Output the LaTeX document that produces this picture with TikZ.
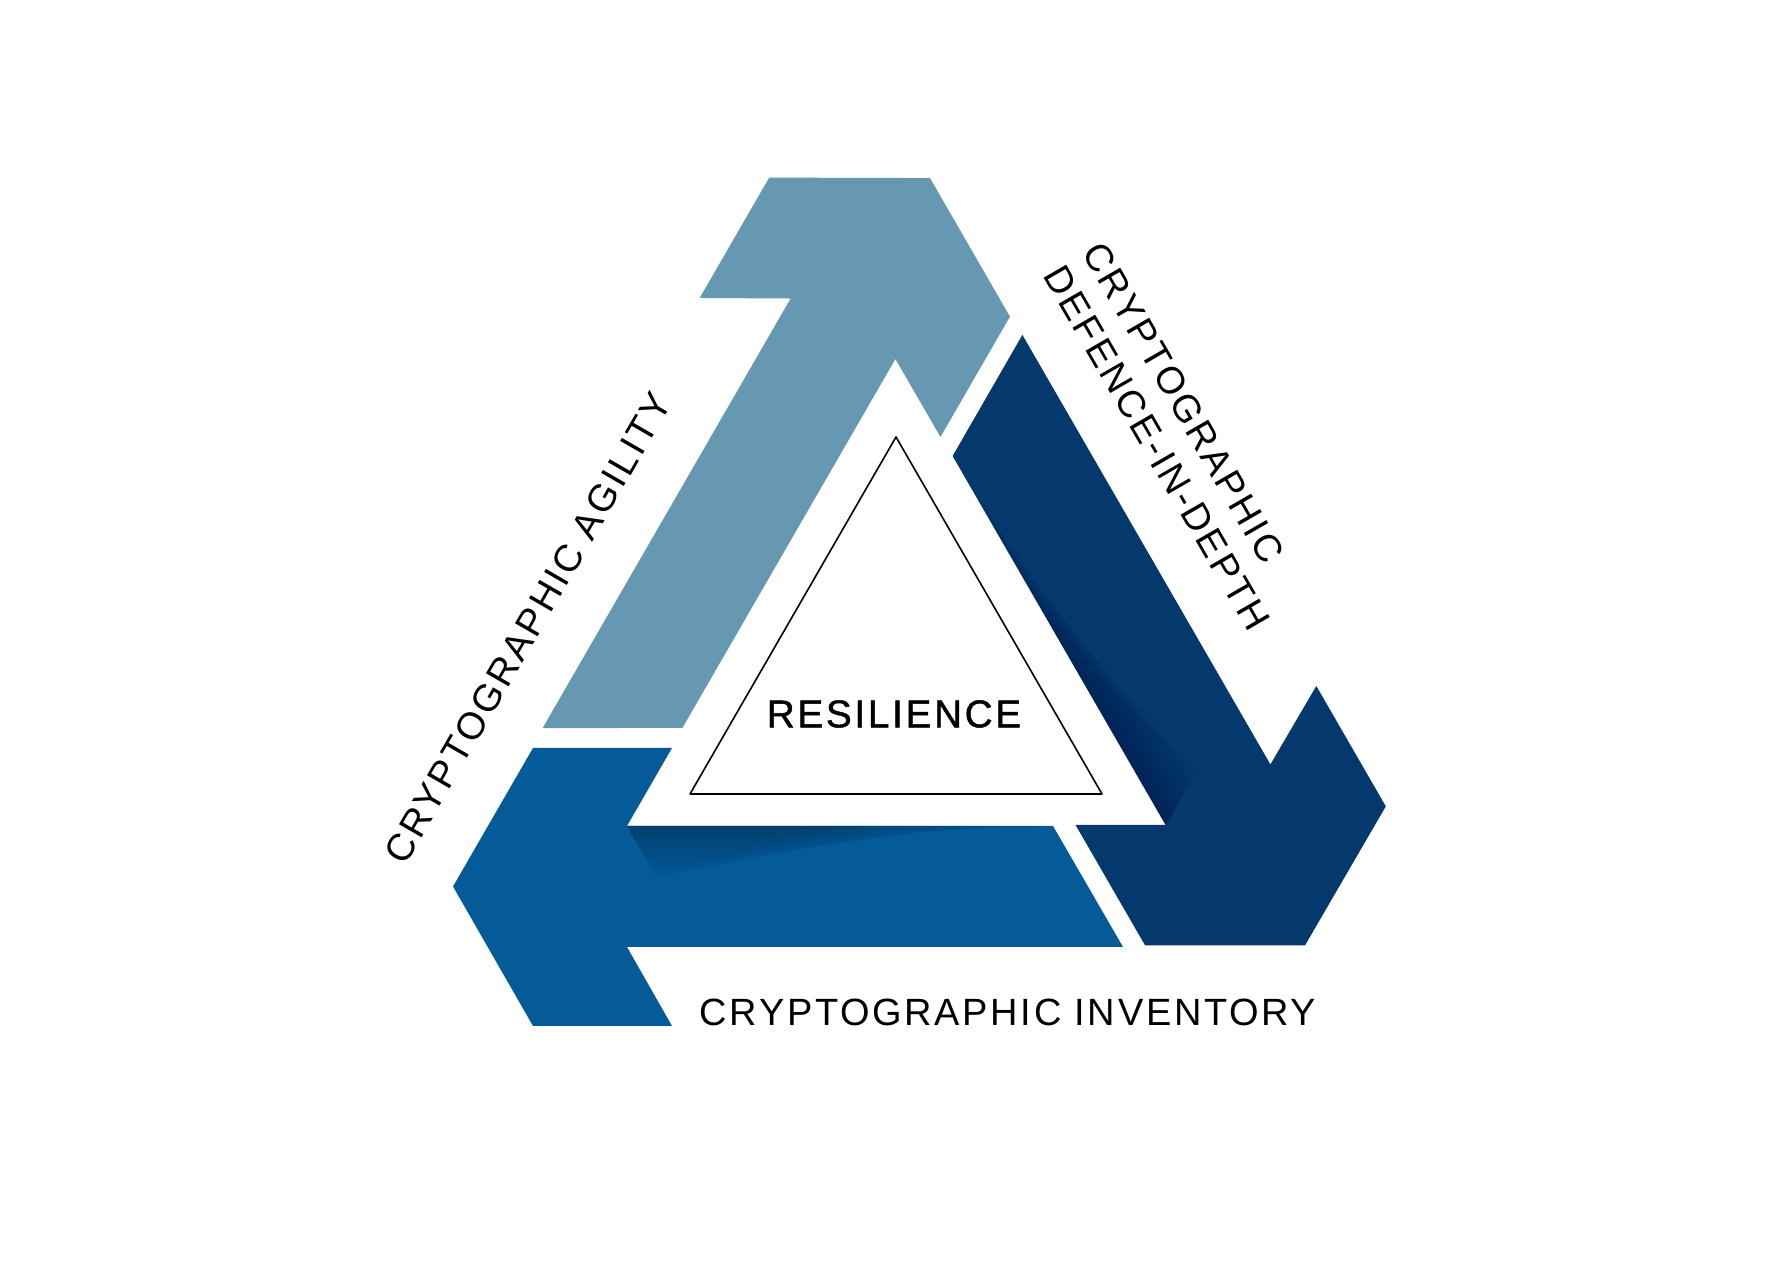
\documentclass[tikz,border=0pt]{standalone}
\usepackage{tkz-euclide}
\usepackage{tikz}
\usepackage{fontspec}
\setmainfont{Liberation Sans}
\newfontfamily\labelfont[LetterSpace=7]{Liberation Sans}
\newfontfamily\centrefont[LetterSpace=7,FakeBold=1.2]{Liberation Sans}
\definecolor{agilityblue}{HTML}{6798B2}
\definecolor{inventoryblue}{HTML}{045B97}
\definecolor{defenceblue}{HTML}{05386C}
\definecolor{shadowblue}{HTML}{011E40}

\begin{document}
\begin{tikzpicture}[x=0.01cm, y=0.01cm,
    textlabel/.style={font=\labelfont\fontsize{10.8}{13}\selectfont, inner sep=0pt}]
    \useasboundingbox (0,0) rectangle (1770,1280);
    \foreach \turn/\col/\dim in {0/inventoryblue/0.018, -120/agilityblue/0, 120/defenceblue/0.02}{
        \begin{scope}[shift={(896,610)}, rotate=\turn]
            \fill[\col] (-443,-216.5) -- (-363,-78) -- (-224,-78) -- (-269,-156)
                -- (157,-156) -- (227,-277) -- (-269,-277) -- (-224,-356)
                -- (-363,-356) -- cycle;
            \foreach \d in {2.5,5,...,50}
                \fill[shadowblue, opacity=\dim] (-269,-156) -- (170-5*\d,-156)
                    -- (20-5*\d,-156-\d) -- (-269+0.58*\d,-156-\d) -- cycle;
        \end{scope}
    }
    \tkzDefPoints{896/843/A,690/486/B,1102/486/C}
    \tkzDrawPolygon[line width=0.45pt](A,B,C)
    \node[textlabel, font=\centrefont\fontsize{11}{13}\selectfont] (resilience) at (894,566) {RESILIENCE};
    \node[textlabel] (inventory) at (1008,268) {CRYPTOGRAPHIC INVENTORY};
    \node[textlabel, rotate=60] (agility) at (528,652) {CRYPTOGRAPHIC AGILITY};
    \node[textlabel, rotate=-60, anchor=west, align=left] (defence) at (1073,1023)
        {CRYPTOGRAPHIC\\DEFENCE-IN-DEPTH};
\end{tikzpicture}
\end{document}
